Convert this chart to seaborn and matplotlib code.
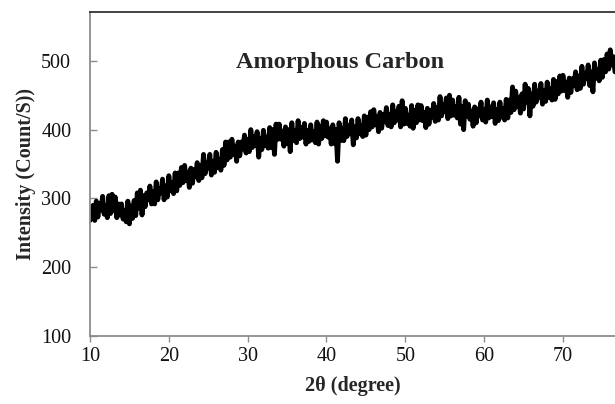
import numpy as np
import pandas as pd
import matplotlib
matplotlib.use("Agg")
import matplotlib.pyplot as plt
import seaborn as sns

# XRD scan of amorphous carbon: intensity sampled every 0.2 degree, 2-theta 10 -> 76.6
two_theta_start = 10.0
two_theta_step = 0.2
intensity = [
    268, 278, 290, 268, 296,   # 10
    273, 293, 283, 303, 277,   # 11
    290, 272, 304, 278, 306,   # 12
    282, 302, 272, 292, 276,   # 13
    292, 270, 282, 266, 296,   # 14
    263, 289, 271, 297, 275,   # 15
    308, 286, 312, 276, 304,   # 16
    288, 308, 298, 318, 292,   # 17
    310, 292, 324, 298, 314,   # 18
    308, 328, 298, 318, 302,   # 19
    333, 311, 323, 307, 337,   # 20
    311, 337, 319, 345, 323,   # 21
    348, 326, 338, 316, 344,   # 22
    322, 342, 332, 352, 326,   # 23
    348, 330, 364, 336, 352,   # 24
    344, 364, 334, 354, 338,   # 25
    367, 345, 357, 341, 371,   # 26
    348, 382, 356, 382, 360,   # 27
    386, 364, 376, 354, 382,   # 28
    362, 382, 372, 392, 366,   # 29
    386, 368, 400, 374, 390,   # 30
    377, 397, 360, 387, 371,   # 31
    399, 377, 389, 373, 403,   # 32
    374, 400, 364, 408, 386,   # 33
    408, 386, 398, 376, 404,   # 34
    380, 400, 368, 410, 384,   # 35
    399, 381, 413, 387, 403,   # 36
    389, 409, 379, 399, 383,   # 37
    407, 385, 397, 381, 411,   # 38
    379, 405, 387, 413, 391,   # 39
    411, 389, 401, 379, 407,   # 40
    380, 400, 354, 410, 384,   # 41
    402, 384, 416, 390, 406,   # 42
    394, 414, 378, 404, 388,   # 43
    416, 394, 406, 390, 420,   # 44
    392, 418, 400, 426, 404,   # 45
    429, 407, 419, 397, 425,   # 46
    402, 422, 412, 432, 406,   # 47
    422, 404, 436, 410, 426,   # 48
    414, 434, 404, 442, 408,   # 49
    431, 409, 421, 405, 435,   # 50
    402, 428, 410, 436, 414,   # 51
    435, 413, 425, 403, 431,   # 52
    408, 428, 418, 438, 412,   # 53
    432, 414, 448, 420, 436,   # 54
    426, 446, 416, 450, 420,   # 55
    443, 421, 433, 417, 447,   # 56
    408, 434, 400, 442, 420,   # 57
    437, 415, 427, 405, 433,   # 58
    410, 430, 420, 440, 414,   # 59
    429, 411, 443, 417, 433,   # 60
    419, 439, 409, 429, 413,   # 61
    440, 418, 430, 414, 444,   # 62
    417, 443, 425, 462, 429,   # 63
    456, 434, 446, 424, 452,   # 64
    430, 466, 440, 460, 420,   # 65
    452, 434, 466, 440, 456,   # 66
    447, 467, 437, 457, 441,   # 67
    469, 447, 459, 443, 473,   # 68
    444, 470, 452, 478, 456,   # 69
    479, 457, 469, 447, 475,   # 70
    454, 474, 464, 484, 458,   # 71
    478, 460, 492, 466, 482,   # 72
    474, 494, 464, 484, 455,   # 73
    497, 475, 487, 471, 501,   # 74
    476, 502, 484, 510, 488,   # 75
    516, 494, 506, 484,        # 76
]
two_theta = two_theta_start + two_theta_step * np.arange(len(intensity))

x_ticks = [10, 20, 30, 40, 50, 60, 70]
y_ticks = [100, 200, 300, 400, 500]
title_text = "Amorphous Carbon"
x_label = "2\u03b8 (degree)"
y_label = "Intensity (Count/S))"

df = pd.DataFrame({"two_theta": two_theta, "intensity": intensity})

sns.set_style("white")
plt.rcParams["font.family"] = ["Liberation Serif", "DejaVu Serif"]

fig = plt.figure(figsize=(6.15, 4.04), dpi=100)
ax = fig.add_axes([90 / 615, 68 / 404, 525 / 615, 324 / 404])

sns.lineplot(data=df, x="two_theta", y="intensity", ax=ax,
             color="black", linewidth=3.5, solid_joinstyle="round",
             solid_capstyle="round")

ax.set_xlim(10, 76.6)
ax.set_ylim(100, 571)
ax.set_xticks(x_ticks)
ax.set_yticks(y_ticks)

axis_grey = "#8c8c8c"
for side in ("left", "bottom"):
    ax.spines[side].set_color(axis_grey)
    ax.spines[side].set_linewidth(1.3)
ax.spines["top"].set_color("#222222")
ax.spines["top"].set_linewidth(1.2)
ax.spines["right"].set_visible(False)

ax.tick_params(axis="x", direction="out", length=4, width=1.0, color=axis_grey,
               labelsize=14.5, pad=4, labelcolor="#111111")
ax.tick_params(axis="y", direction="in", length=5, width=1.0, color=axis_grey,
               labelsize=14.5, pad=13.5, labelcolor="#111111")
ax.tick_params(bottom=True, left=True)

ax.set_xlabel(x_label, fontsize=14.5, fontweight="bold", labelpad=7)
ax.set_ylabel(y_label, fontsize=14.5, fontweight="bold", labelpad=4)

ax.text(41.7, 498, title_text, ha="center", va="center",
        fontsize=17.5, fontweight="bold")

fig.savefig("out.png", dpi=100)
